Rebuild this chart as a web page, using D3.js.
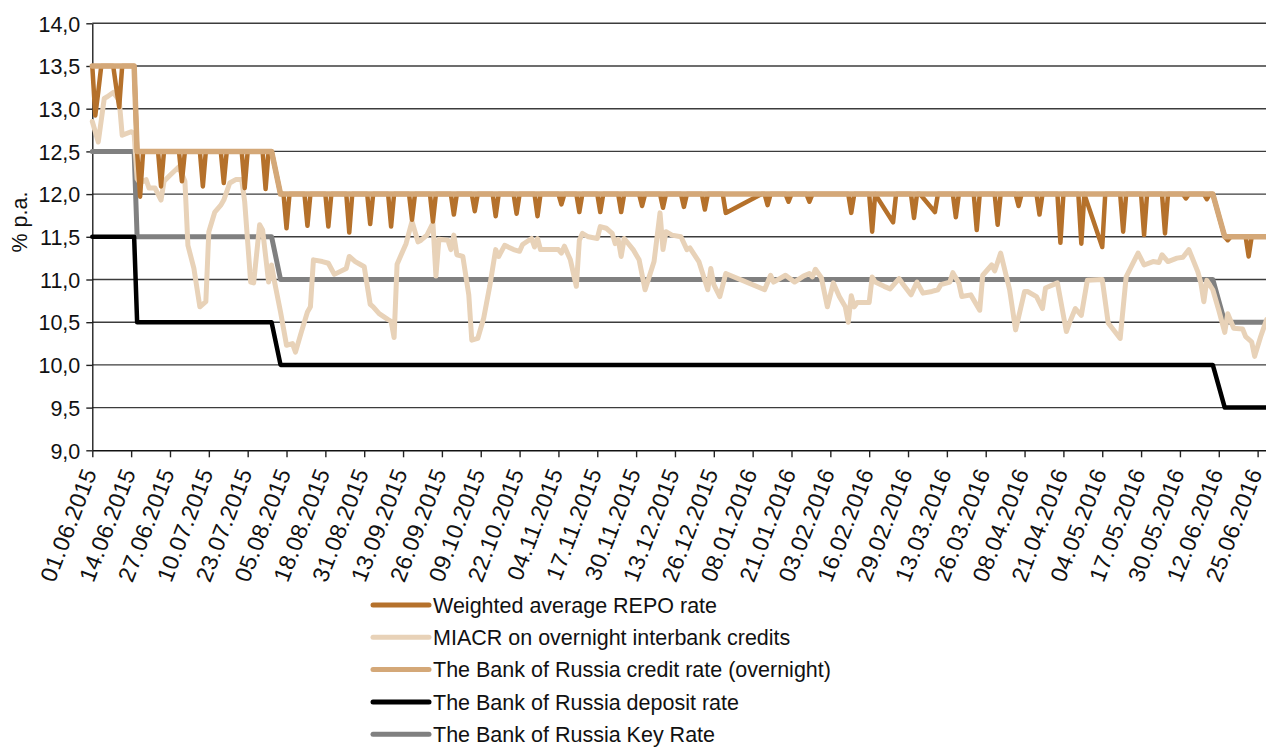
<!DOCTYPE html>
<html>
<head>
<meta charset="utf-8">
<script src="https://cdn.jsdelivr.net/npm/d3@7"></script>
<style>
  body { margin: 0; background: #fff; }
  svg { display: block; font-family: "Liberation Sans", Arial, sans-serif; }
</style>
</head>
<body>
<svg id="chart" width="1266" height="747"></svg>
<script>

// Tick labels
const yTicks = [9.0, 9.5, 10.0, 10.5, 11.0, 11.5, 12.0, 12.5, 13.0, 13.5, 14.0];
const xTickLabels = [
    "01.06.2015", "14.06.2015", "27.06.2015", "10.07.2015", "23.07.2015", "05.08.2015",
    "18.08.2015", "31.08.2015", "13.09.2015", "26.09.2015", "09.10.2015", "22.10.2015",
    "04.11.2015", "17.11.2015", "30.11.2015", "13.12.2015", "26.12.2015", "08.01.2016",
    "21.01.2016", "03.02.2016", "16.02.2016", "29.02.2016", "13.03.2016", "26.03.2016",
    "08.04.2016", "21.04.2016", "04.05.2016", "17.05.2016", "30.05.2016", "12.06.2016",
    "25.06.2016"
];

const seriesNames = [
    "Weighted average REPO rate",
    "MIACR on overnight interbank credits",
    "The Bank of Russia credit rate (overnight)",
    "The Bank of Russia deposit rate",
    "The Bank of Russia Key Rate"
];

// Policy rates (step changes)
const keyRate = [
    ["01.06.2015", 12.5], ["15.06.2015", 12.5], ["16.06.2015", 11.5], ["31.07.2015", 11.5],
    ["03.08.2015", 11.0], ["10.06.2016", 11.0], ["14.06.2016", 10.5], ["30.06.2016", 10.5]
];
const depositRate = [
    ["01.06.2015", 11.5], ["15.06.2015", 11.5], ["16.06.2015", 10.5], ["31.07.2015", 10.5],
    ["03.08.2015", 10.0], ["10.06.2016", 10.0], ["14.06.2016", 9.5], ["30.06.2016", 9.5]
];
const creditRate = [
    ["01.06.2015", 13.5], ["15.06.2015", 13.5], ["16.06.2015", 12.5], ["31.07.2015", 12.5],
    ["03.08.2015", 12.0], ["10.06.2016", 12.0], ["14.06.2016", 11.5], ["30.06.2016", 11.5]
];

// Weighted average REPO rate
const repoRate = [
    ["01.06.2015", 13.5], ["02.06.2015", 12.92], ["03.06.2015", 13.2], ["04.06.2015", 13.5],
    ["08.06.2015", 13.5], ["09.06.2015", 13.25], ["10.06.2015", 13.02], ["11.06.2015", 13.5],
    ["15.06.2015", 13.5], ["16.06.2015", 12.5], ["17.06.2015", 11.97], ["18.06.2015", 12.5],
    ["23.06.2015", 12.5], ["24.06.2015", 12.09], ["25.06.2015", 12.5],
    ["30.06.2015", 12.5], ["01.07.2015", 12.15], ["02.07.2015", 12.5],
    ["07.07.2015", 12.5], ["08.07.2015", 12.09], ["09.07.2015", 12.5],
    ["14.07.2015", 12.5], ["15.07.2015", 12.13], ["16.07.2015", 12.5],
    ["21.07.2015", 12.5], ["22.07.2015", 12.07], ["23.07.2015", 12.5],
    ["28.07.2015", 12.5], ["29.07.2015", 12.06], ["30.07.2015", 12.5], ["31.07.2015", 12.5],
    ["03.08.2015", 12.0], ["04.08.2015", 12.0], ["05.08.2015", 11.60], ["06.08.2015", 12.0],
    ["11.08.2015", 12.0], ["12.08.2015", 11.63], ["13.08.2015", 12.0],
    ["18.08.2015", 12.0], ["19.08.2015", 11.62], ["20.08.2015", 12.0],
    ["25.08.2015", 12.0], ["26.08.2015", 11.55], ["27.08.2015", 12.0],
    ["01.09.2015", 12.0], ["02.09.2015", 11.65], ["03.09.2015", 12.0],
    ["08.09.2015", 12.0], ["09.09.2015", 11.62], ["10.09.2015", 12.0],
    ["15.09.2015", 12.0], ["16.09.2015", 11.70], ["17.09.2015", 12.0],
    ["22.09.2015", 12.0], ["23.09.2015", 11.68], ["24.09.2015", 12.0],
    ["29.09.2015", 12.0], ["30.09.2015", 11.76], ["01.10.2015", 12.0],
    ["06.10.2015", 12.0], ["07.10.2015", 11.80], ["08.10.2015", 12.0],
    ["13.10.2015", 12.0], ["14.10.2015", 11.74], ["15.10.2015", 12.0],
    ["20.10.2015", 12.0], ["21.10.2015", 11.77], ["22.10.2015", 12.0],
    ["27.10.2015", 12.0], ["28.10.2015", 11.74], ["29.10.2015", 12.0],
    ["04.11.2015", 12.0], ["05.11.2015", 11.88], ["06.11.2015", 12.0],
    ["10.11.2015", 12.0], ["11.11.2015", 11.79], ["12.11.2015", 12.0],
    ["17.11.2015", 12.0], ["18.11.2015", 11.79], ["19.11.2015", 12.0],
    ["24.11.2015", 12.0], ["25.11.2015", 11.79], ["26.11.2015", 12.0],
    ["01.12.2015", 12.0], ["02.12.2015", 11.86], ["03.12.2015", 12.0],
    ["08.12.2015", 12.0], ["09.12.2015", 11.84], ["10.12.2015", 12.0],
    ["15.12.2015", 12.0], ["16.12.2015", 11.85], ["17.12.2015", 12.0],
    ["22.12.2015", 12.0], ["23.12.2015", 11.82], ["24.12.2015", 12.0],
    ["29.12.2015", 12.0], ["30.12.2015", 11.78], ["11.01.2016", 12.0],
    ["12.01.2016", 12.0], ["13.01.2016", 11.87], ["14.01.2016", 12.0],
    ["19.01.2016", 12.0], ["20.01.2016", 11.91], ["21.01.2016", 12.0],
    ["26.01.2016", 12.0], ["27.01.2016", 11.91], ["28.01.2016", 12.0],
    ["09.02.2016", 12.0], ["10.02.2016", 11.78], ["11.02.2016", 12.0],
    ["16.02.2016", 12.0], ["17.02.2016", 11.56], ["18.02.2016", 12.0],
    ["24.02.2016", 11.67], ["25.02.2016", 12.0],
    ["01.03.2016", 12.0], ["02.03.2016", 11.72], ["03.03.2016", 12.0], ["04.03.2016", 12.0],
    ["09.03.2016", 11.79], ["10.03.2016", 12.0],
    ["15.03.2016", 12.0], ["16.03.2016", 11.73], ["17.03.2016", 12.0],
    ["22.03.2016", 12.0], ["23.03.2016", 11.58], ["24.03.2016", 12.0],
    ["29.03.2016", 12.0], ["30.03.2016", 11.64], ["31.03.2016", 12.0],
    ["05.04.2016", 12.0], ["06.04.2016", 11.86], ["07.04.2016", 12.0],
    ["12.04.2016", 12.0], ["13.04.2016", 11.76], ["14.04.2016", 12.0],
    ["19.04.2016", 12.0], ["20.04.2016", 11.43], ["21.04.2016", 12.0],
    ["26.04.2016", 12.0], ["27.04.2016", 11.42], ["28.04.2016", 12.0],
    ["04.05.2016", 11.38], ["05.05.2016", 12.0],
    ["10.05.2016", 12.0], ["11.05.2016", 11.56], ["12.05.2016", 12.0],
    ["17.05.2016", 12.0], ["18.05.2016", 11.52], ["19.05.2016", 12.0],
    ["24.05.2016", 12.0], ["25.05.2016", 11.54], ["26.05.2016", 12.0],
    ["31.05.2016", 12.0], ["01.06.2016", 11.95], ["02.06.2016", 12.0],
    ["07.06.2016", 12.0], ["08.06.2016", 11.94], ["09.06.2016", 12.0], ["10.06.2016", 12.0],
    ["14.06.2016", 11.5], ["15.06.2016", 11.46], ["16.06.2016", 11.5],
    ["21.06.2016", 11.5], ["22.06.2016", 11.27], ["23.06.2016", 11.5], ["30.06.2016", 11.5]
];

// MIACR on overnight interbank credits
const miacr = [
    ["01.06.2015", 12.85], ["03.06.2015", 12.61], ["05.06.2015", 13.12], ["06.06.2015", 13.14],
    ["08.06.2015", 13.19], ["10.06.2015", 13.10], ["11.06.2015", 12.69], ["14.06.2015", 12.73],
    ["15.06.2015", 12.71], ["16.06.2015", 12.18], ["17.06.2015", 12.13], ["19.06.2015", 12.17],
    ["20.06.2015", 12.07], ["22.06.2015", 12.07], ["24.06.2015", 11.93], ["25.06.2015", 12.15],
    ["27.06.2015", 12.22], ["30.06.2015", 12.32], ["02.07.2015", 12.15], ["03.07.2015", 11.40],
    ["05.07.2015", 11.13], ["07.07.2015", 10.68], ["09.07.2015", 10.74], ["10.07.2015", 11.56],
    ["12.07.2015", 11.79], ["14.07.2015", 11.87], ["15.07.2015", 11.93], ["17.07.2015", 12.13],
    ["19.07.2015", 12.17], ["21.07.2015", 12.17], ["22.07.2015", 11.91], ["24.07.2015", 10.97],
    ["25.07.2015", 10.96], ["27.07.2015", 11.64], ["28.07.2015", 11.58], ["30.07.2015", 10.97],
    ["31.07.2015", 11.17], ["01.08.2015", 10.97], ["03.08.2015", 10.62], ["05.08.2015", 10.23],
    ["07.08.2015", 10.25], ["08.08.2015", 10.15], ["10.08.2015", 10.39], ["12.08.2015", 10.62],
    ["13.08.2015", 10.68], ["14.08.2015", 11.23], ["17.08.2015", 11.21], ["19.08.2015", 11.19],
    ["21.08.2015", 11.06], ["25.08.2015", 11.13], ["26.08.2015", 11.27], ["28.08.2015", 11.21],
    ["30.08.2015", 11.17], ["31.08.2015", 11.15], ["02.09.2015", 10.71], ["03.09.2015", 10.68],
    ["05.09.2015", 10.60], ["08.09.2015", 10.53], ["09.09.2015", 10.51], ["10.09.2015", 10.32],
    ["11.09.2015", 11.18], ["14.09.2015", 11.42], ["16.09.2015", 11.68], ["18.09.2015", 11.44],
    ["19.09.2015", 11.46], ["21.09.2015", 11.52], ["23.09.2015", 11.66], ["24.09.2015", 11.04],
    ["25.09.2015", 11.47], ["28.09.2015", 11.46], ["29.09.2015", 11.35], ["30.09.2015", 11.52],
    ["01.10.2015", 11.29], ["03.10.2015", 11.27], ["05.10.2015", 10.82], ["06.10.2015", 10.29],
    ["08.10.2015", 10.31], ["10.10.2015", 10.55], ["12.10.2015", 10.92], ["14.10.2015", 11.35],
    ["15.10.2015", 11.27], ["17.10.2015", 11.40], ["20.10.2015", 11.35], ["22.10.2015", 11.33],
    ["23.10.2015", 11.41], ["26.10.2015", 11.48], ["27.10.2015", 11.38], ["28.10.2015", 11.48],
    ["29.10.2015", 11.35], ["04.11.2015", 11.35], ["05.11.2015", 11.31], ["06.11.2015", 11.39],
    ["08.11.2015", 11.23], ["10.11.2015", 10.92], ["11.11.2015", 11.46], ["12.11.2015", 11.54],
    ["14.11.2015", 11.50], ["17.11.2015", 11.48], ["18.11.2015", 11.62], ["20.11.2015", 11.60],
    ["22.11.2015", 11.54], ["23.11.2015", 11.42], ["24.11.2015", 11.47], ["25.11.2015", 11.27],
    ["26.11.2015", 11.48], ["29.11.2015", 11.35], ["01.12.2015", 11.23], ["03.12.2015", 10.88],
    ["06.12.2015", 11.21], ["08.12.2015", 11.78], ["09.12.2015", 11.35], ["10.12.2015", 11.56],
    ["12.12.2015", 11.52], ["15.12.2015", 11.50], ["17.12.2015", 11.35], ["18.12.2015", 11.37],
    ["21.12.2015", 11.21], ["24.12.2015", 10.88], ["25.12.2015", 11.13], ["26.12.2015", 10.94],
    ["28.12.2015", 10.80], ["30.12.2015", 11.07], ["12.01.2016", 10.88], ["14.01.2016", 11.05],
    ["15.01.2016", 10.97], ["19.01.2016", 11.05], ["22.01.2016", 10.97], ["25.01.2016", 11.04],
    ["27.01.2016", 11.07], ["28.01.2016", 11.03], ["29.01.2016", 11.12], ["31.01.2016", 11.02],
    ["02.02.2016", 10.68], ["04.02.2016", 10.96], ["06.02.2016", 10.80], ["08.02.2016", 10.68],
    ["09.02.2016", 10.50], ["10.02.2016", 10.81], ["11.02.2016", 10.68], ["12.02.2016", 10.73],
    ["16.02.2016", 10.73], ["17.02.2016", 11.03], ["18.02.2016", 10.97], ["21.02.2016", 10.92],
    ["23.02.2016", 10.89], ["26.02.2016", 11.01], ["27.02.2016", 10.96], ["01.03.2016", 10.82],
    ["03.03.2016", 10.97], ["05.03.2016", 10.84], ["08.03.2016", 10.86], ["10.03.2016", 10.88],
    ["11.03.2016", 10.94], ["14.03.2016", 10.97], ["15.03.2016", 11.08], ["17.03.2016", 10.96],
    ["18.03.2016", 10.80], ["21.03.2016", 10.82], ["24.03.2016", 10.64], ["25.03.2016", 11.05],
    ["28.03.2016", 11.17], ["29.03.2016", 11.10], ["31.03.2016", 11.31], ["03.04.2016", 10.88],
    ["05.04.2016", 10.41], ["08.04.2016", 10.86], ["09.04.2016", 10.86], ["12.04.2016", 10.80],
    ["14.04.2016", 10.66], ["15.04.2016", 10.90], ["19.04.2016", 10.96], ["22.04.2016", 10.39],
    ["23.04.2016", 10.49], ["25.04.2016", 10.66], ["27.04.2016", 10.58], ["29.04.2016", 10.99],
    ["04.05.2016", 11.00], ["06.05.2016", 10.49], ["10.05.2016", 10.31], ["12.05.2016", 11.03],
    ["14.05.2016", 11.17], ["16.05.2016", 11.31], ["18.05.2016", 11.17], ["21.05.2016", 11.21],
    ["23.05.2016", 11.20], ["24.05.2016", 11.29], ["26.05.2016", 11.21], ["29.05.2016", 11.25],
    ["31.05.2016", 11.26], ["02.06.2016", 11.35], ["05.06.2016", 11.09], ["06.06.2016", 10.96],
    ["07.06.2016", 10.74], ["08.06.2016", 10.99], ["10.06.2016", 10.88], ["12.06.2016", 10.64],
    ["14.06.2016", 10.38], ["15.06.2016", 10.60], ["17.06.2016", 10.43], ["20.06.2016", 10.42],
    ["21.06.2016", 10.33], ["23.06.2016", 10.27], ["24.06.2016", 10.10], ["26.06.2016", 10.33],
    ["28.06.2016", 10.53]
];


const parse = d3.utcParse("%d.%m.%Y");
const fmt = d3.utcFormat("%d.%m.%Y");

const svg = d3.select("#chart");

// Scales
const x = d3.scaleUtc()
    .domain([parse("01.06.2015"), parse("01.07.2016")])
    .range([92.3, 92.3 + 396 * 2.988]);

const y = d3.scaleLinear()
    .domain([9, 14])
    .range([450.3, 23.3]);

// Horizontal grid lines
svg.append("g")
    .selectAll("line")
    .data(yTicks.slice(1))
    .enter()
    .append("line")
    .attr("x1", 92.3)
    .attr("x2", 1266)
    .attr("y1", d => y(d))
    .attr("y2", d => y(d))
    .attr("stroke", "#3c3c3c")
    .attr("stroke-width", 1.4);

// Y axis
let yAxis = svg.append("g")
    .attr("transform", "translate(92.3,0)")
    .call(d3.axisLeft(y)
        .tickValues(yTicks)
        .tickSize(6)
        .tickSizeOuter(0)
        .tickFormat(d => d.toFixed(1).replace(".", ",")));

yAxis.selectAll("line").attr("stroke", "#222").attr("stroke-width", 1.4);
yAxis.select(".domain").attr("stroke", "#111").attr("stroke-width", 1.3);
yAxis.selectAll("text")
    .attr("x", -12)
    .attr("dy", "0.36em")
    .attr("fill", "#111")
    .style("font-size", "21.5px")
    .style("font-family", "'Liberation Sans', Arial, sans-serif");

// X axis
let xAxis = svg.append("g")
    .attr("transform", "translate(0,450.3)")
    .call(d3.axisBottom(x)
        .tickValues(xTickLabels.map(parse))
        .tickSize(7)
        .tickSizeOuter(0)
        .tickFormat(fmt));

xAxis.selectAll("line").attr("stroke", "#222").attr("stroke-width", 1.4);
xAxis.select(".domain").attr("stroke", "#111").attr("stroke-width", 1.4);
xAxis.selectAll("text")
    .attr("x", 0)
    .attr("y", 0)
    .attr("dy", 0)
    .attr("text-anchor", "end")
    .attr("transform", "translate(4.5,22) rotate(-69)")
    .attr("fill", "#111")
    .style("font-size", "23px")
    .style("letter-spacing", "0.4px")
    .style("font-family", "'Liberation Sans', Arial, sans-serif");

// Y axis title
svg.append("text")
    .attr("transform", "translate(27,222) rotate(-90)")
    .attr("text-anchor", "middle")
    .attr("fill", "#111")
    .style("font-size", "21.5px")
    .text("% p.a.");

// Lines
const line = d3.line()
    .x(d => x(parse(d[0])))
    .y(d => y(d[1]));

const colors = ["#b5712b", "#e8d2b8", "#d4a878", "#000000", "#808080"];
const widths = [4.5, 5, 5.5, 4.5, 5];

// drawing order: key, deposit, MIACR, REPO, credit
const layers = [
    [keyRate, 4],
    [depositRate, 3],
    [miacr, 1],
    [repoRate, 0],
    [creditRate, 2]
];

layers.forEach(function (l) {
    svg.append("path")
        .datum(l[0])
        .attr("d", line)
        .attr("fill", "none")
        .attr("stroke", colors[l[1]])
        .attr("stroke-width", widths[l[1]])
        .attr("stroke-linejoin", "round")
        .attr("stroke-linecap", "round");
});

// Legend
let legend = svg.append("g")
    .selectAll("g")
    .data(seriesNames)
    .enter()
    .append("g")
    .attr("transform", (d, i) => "translate(0," + (605 + i * 32.3) + ")");

legend.append("line")
    .attr("x1", 373)
    .attr("x2", 429)
    .attr("stroke", (d, i) => colors[i])
    .attr("stroke-width", 5)
    .attr("stroke-linecap", "round");

legend.append("text")
    .attr("x", 433)
    .attr("dy", "0.36em")
    .attr("fill", "#111")
    .style("font-size", "21.5px")
    .text(d => d);

</script>
</body>
</html>
